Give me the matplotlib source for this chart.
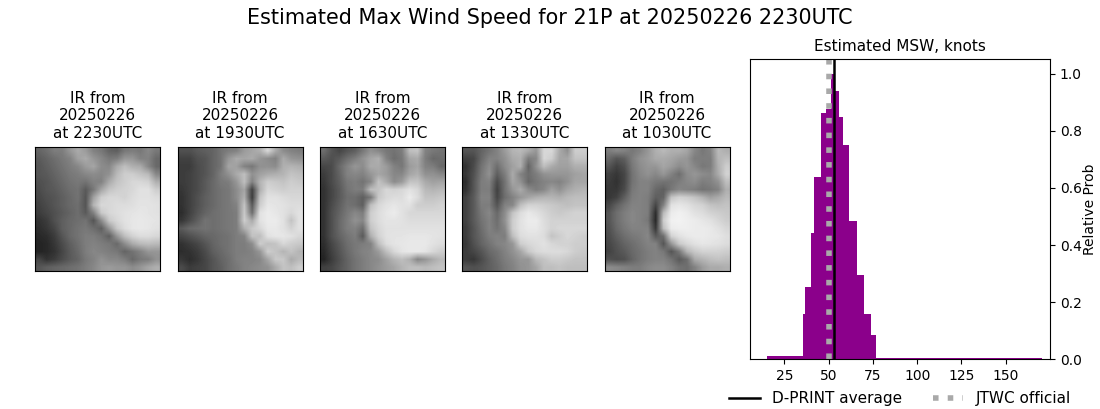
"""Estimated max wind speed panel: five IR thumbnails plus the D-PRINT histogram."""
import matplotlib
matplotlib.use("Agg")
import matplotlib.pyplot as plt
import numpy as np

# histogram bin edges (knots) and relative probability
bin_edges = [15.3, 35.8, 36.9, 39.8, 42.0, 45.5, 48.3, 51.1, 53.4, 55.7, 58.0,
             61.4, 65.9, 69.9, 73.9, 76.7, 170.5]
rel_prob = [0.0105, 0.16, 0.252, 0.442, 0.64, 0.861, 0.875, 1.0, 0.94, 0.847,
            0.749, 0.483, 0.294, 0.158, 0.084, 0.005]
dprint_avg = 53.3
jtwc_official = 50

ir_times = ["2230", "1930", "1630", "1330", "1030"]
ir_date = "20250226"

# coarse grey levels
ir_2230 = [
    [100, 110, 125, 125, 150, 170, 155, 130, 120, 100, 95, 120, 125, 120, 135, 120],
    [90, 100, 110, 120, 130, 160, 170, 150, 135, 120, 125, 150, 150, 130, 130, 105],
    [85, 95, 105, 115, 125, 135, 155, 165, 140, 135, 170, 190, 175, 170, 135, 105],
    [85, 90, 100, 110, 120, 125, 135, 140, 135, 145, 185, 205, 205, 195, 185, 135],
    [80, 85, 95, 105, 115, 120, 115, 130, 130, 170, 195, 205, 215, 215, 210, 175],
    [75, 85, 90, 100, 110, 115, 90, 120, 165, 195, 205, 210, 215, 225, 225, 205],
    [70, 80, 85, 95, 105, 115, 85, 160, 205, 215, 215, 210, 220, 225, 225, 220],
    [65, 75, 85, 95, 105, 110, 85, 180, 215, 215, 220, 220, 222, 228, 228, 225],
    [60, 70, 80, 90, 100, 110, 90, 130, 200, 215, 220, 225, 228, 230, 228, 225],
    [50, 60, 80, 95, 105, 110, 115, 85, 140, 200, 215, 225, 230, 232, 230, 228],
    [45, 55, 70, 95, 105, 115, 120, 110, 95, 150, 200, 220, 230, 232, 230, 225],
    [40, 45, 60, 85, 105, 115, 125, 125, 115, 95, 150, 190, 210, 220, 220, 215],
    [35, 40, 55, 75, 95, 110, 125, 130, 125, 120, 105, 140, 170, 185, 190, 185],
    [35, 40, 50, 70, 90, 105, 125, 135, 130, 125, 120, 100, 115, 130, 150, 150],
    [70, 50, 60, 75, 90, 100, 120, 130, 145, 135, 135, 125, 105, 120, 125, 145],
    [85, 95, 100, 105, 110, 115, 125, 135, 150, 155, 150, 150, 140, 150, 165, 175],
]
ir_1930 = [
    [80, 80, 90, 95, 100, 115, 125, 130, 155, 165, 175, 215, 170, 140, 130, 125],
    [65, 65, 80, 85, 100, 115, 150, 170, 165, 170, 150, 140, 130, 170, 150, 145],
    [60, 60, 75, 85, 100, 115, 165, 160, 130, 120, 145, 145, 140, 175, 180, 175],
    [60, 65, 75, 85, 100, 125, 145, 170, 190, 145, 160, 170, 175, 180, 195, 190],
    [60, 65, 75, 90, 105, 120, 125, 150, 190, 130, 180, 205, 200, 195, 205, 200],
    [55, 65, 75, 90, 105, 115, 120, 140, 165, 65, 175, 215, 210, 205, 210, 210],
    [50, 65, 80, 95, 105, 115, 120, 140, 175, 60, 195, 225, 225, 220, 215, 215],
    [50, 65, 80, 95, 105, 115, 120, 130, 195, 90, 205, 230, 228, 225, 220, 220],
    [45, 65, 85, 100, 110, 115, 120, 125, 200, 110, 225, 235, 230, 225, 215, 225],
    [55, 75, 95, 115, 110, 115, 120, 125, 205, 170, 225, 235, 235, 225, 195, 225],
    [90, 105, 110, 115, 110, 115, 120, 125, 175, 200, 215, 232, 232, 225, 210, 225],
    [70, 80, 90, 100, 105, 110, 115, 125, 130, 195, 190, 225, 230, 230, 225, 215],
    [50, 60, 70, 85, 100, 110, 115, 125, 125, 140, 205, 190, 195, 215, 205, 200],
    [45, 50, 60, 75, 95, 105, 115, 125, 125, 130, 150, 205, 195, 180, 195, 180],
    [55, 45, 55, 70, 85, 100, 110, 125, 130, 130, 135, 165, 200, 200, 170, 185],
    [75, 60, 65, 70, 85, 95, 110, 120, 130, 135, 140, 145, 170, 195, 190, 205],
]
ir_1630 = [
    [110, 85, 70, 85, 95, 120, 145, 135, 120, 115, 125, 190, 195, 130, 120, 115],
    [90, 80, 90, 110, 125, 145, 165, 175, 130, 110, 120, 165, 170, 125, 105, 110],
    [70, 75, 105, 130, 150, 140, 170, 170, 155, 130, 120, 155, 165, 130, 125, 105],
    [60, 75, 100, 130, 135, 130, 150, 165, 155, 135, 135, 165, 175, 145, 145, 135],
    [55, 75, 95, 120, 125, 115, 135, 195, 170, 140, 155, 195, 195, 170, 160, 165],
    [50, 70, 90, 115, 125, 125, 190, 195, 215, 210, 215, 225, 215, 185, 180, 185],
    [50, 70, 90, 110, 110, 95, 120, 200, 215, 220, 220, 235, 220, 195, 195, 200],
    [50, 75, 95, 115, 110, 95, 190, 215, 225, 230, 225, 225, 205, 205, 205, 210],
    [50, 80, 100, 120, 135, 125, 205, 220, 230, 235, 225, 215, 215, 215, 215, 215],
    [50, 80, 105, 125, 145, 135, 205, 220, 228, 228, 225, 220, 220, 220, 220, 220],
    [50, 80, 105, 125, 130, 110, 195, 215, 225, 225, 225, 225, 225, 225, 225, 225],
    [50, 80, 100, 115, 125, 90, 175, 210, 225, 228, 228, 230, 230, 230, 228, 225],
    [45, 70, 90, 110, 120, 125, 130, 190, 220, 228, 230, 232, 232, 232, 225, 220],
    [40, 65, 85, 105, 120, 130, 135, 155, 190, 215, 228, 232, 232, 228, 215, 205],
    [35, 60, 80, 100, 115, 125, 135, 140, 160, 180, 190, 175, 135, 150, 170, 185],
    [65, 70, 85, 100, 115, 125, 135, 145, 155, 165, 180, 190, 190, 185, 190, 195],
]
ir_1330 = [
    [85, 85, 100, 115, 130, 155, 180, 185, 170, 150, 215, 215, 170, 145, 205, 205],
    [65, 70, 105, 130, 130, 145, 170, 175, 125, 135, 215, 205, 165, 165, 195, 195],
    [50, 75, 115, 140, 110, 140, 160, 175, 100, 145, 190, 170, 160, 160, 175, 175],
    [55, 80, 120, 145, 95, 125, 170, 130, 110, 125, 145, 150, 150, 150, 160, 165],
    [45, 85, 125, 130, 75, 115, 165, 145, 105, 120, 130, 135, 130, 145, 165, 165],
    [50, 85, 125, 125, 65, 115, 150, 170, 140, 125, 135, 160, 145, 165, 175, 180],
    [65, 90, 130, 130, 70, 110, 130, 150, 165, 175, 180, 180, 175, 185, 190, 190],
    [65, 90, 125, 125, 85, 130, 135, 190, 210, 210, 205, 200, 195, 190, 195, 195],
    [65, 90, 120, 135, 105, 140, 195, 220, 232, 225, 215, 205, 200, 205, 210, 210],
    [65, 90, 115, 130, 110, 145, 205, 225, 235, 235, 220, 210, 210, 210, 210, 210],
    [60, 85, 110, 130, 115, 135, 205, 225, 232, 232, 222, 210, 215, 215, 215, 215],
    [60, 85, 105, 125, 130, 125, 190, 220, 225, 225, 220, 195, 205, 215, 210, 205],
    [55, 80, 100, 115, 130, 135, 150, 205, 215, 220, 225, 215, 210, 210, 205, 205],
    [60, 70, 85, 105, 115, 130, 145, 165, 200, 215, 220, 220, 220, 215, 205, 200],
    [60, 55, 75, 95, 110, 125, 135, 150, 150, 185, 195, 205, 205, 200, 195, 195],
    [85, 80, 85, 95, 105, 120, 130, 145, 150, 165, 190, 190, 195, 190, 190, 190],
]
ir_1030 = [
    [125, 135, 130, 120, 130, 150, 175, 185, 175, 175, 165, 135, 120, 130, 185, 175],
    [105, 85, 95, 125, 145, 155, 170, 170, 165, 155, 150, 125, 125, 125, 180, 190],
    [85, 65, 80, 120, 140, 150, 150, 165, 155, 140, 150, 135, 120, 125, 175, 205],
    [65, 55, 70, 115, 135, 145, 135, 150, 130, 110, 140, 150, 140, 135, 170, 210],
    [60, 50, 70, 115, 130, 130, 120, 115, 115, 125, 135, 140, 125, 130, 145, 190],
    [55, 55, 75, 120, 130, 130, 105, 95, 120, 135, 130, 125, 115, 120, 130, 175],
    [55, 65, 95, 125, 130, 125, 95, 100, 195, 210, 205, 195, 180, 160, 170, 185],
    [70, 95, 115, 130, 130, 125, 70, 130, 225, 230, 225, 215, 210, 195, 190, 195],
    [85, 110, 125, 135, 130, 125, 45, 185, 235, 240, 235, 225, 220, 210, 205, 200],
    [85, 110, 125, 135, 130, 120, 40, 205, 240, 242, 238, 235, 230, 225, 215, 205],
    [80, 105, 120, 130, 130, 130, 55, 190, 235, 238, 238, 235, 235, 232, 225, 215],
    [75, 95, 110, 120, 125, 135, 90, 110, 210, 225, 232, 235, 235, 232, 230, 222],
    [70, 85, 100, 110, 120, 130, 130, 85, 150, 200, 215, 225, 230, 228, 225, 220],
    [65, 80, 90, 105, 115, 125, 130, 120, 85, 120, 180, 200, 210, 210, 210, 205],
    [80, 75, 80, 100, 115, 125, 130, 130, 115, 90, 110, 170, 180, 190, 195, 190],
    [140, 135, 130, 125, 125, 135, 140, 140, 130, 115, 110, 130, 155, 170, 170, 175],
]
ir_images = [ir_2230, ir_1930, ir_1630, ir_1330, ir_1030]

W, H = 1100, 409


def px_axes(fig, x0, x1, y_top, y_bot):
    """Axes placed by pixel box, y measured from the top of the image."""
    return fig.add_axes([x0 / W, 1 - y_bot / H, (x1 - x0) / W, (y_bot - y_top) / H])


fig = plt.figure(figsize=(W / 100, H / 100), dpi=100)
fig.suptitle("Estimated Max Wind Speed for 21P at 20250226 2230UTC", x=0.4995,
             y=1 - 18 / H, va="center", fontsize=14.95)

lefts = [35, 177.5, 320, 462, 604.5]
for x0, img, hhmm in zip(lefts, ir_images, ir_times):
    ax = px_axes(fig, x0, x0 + 125, 147, 271)
    ax.imshow(np.array(img), cmap="gray", vmin=0, vmax=255, aspect="auto",
              interpolation="bilinear")
    ax.set_xticks([]); ax.set_yticks([])
    ax.set_title(f"IR from\n{ir_date}\nat {hhmm}UTC", fontsize=11, pad=6.6)

ax = px_axes(fig, 750, 1050, 59.4, 359.4)
edges = np.array(bin_edges)
ax.bar(edges[:-1], rel_prob, width=np.diff(edges), align="edge", color="darkmagenta")
ax.axvline(dprint_avg, color="k", lw=1.8, label="D-PRINT average")
ax.axvline(jtwc_official, color="darkgray", lw=4, ls=":", label="JTWC official")
ax.set_xlim(5.6, 175)
ax.set_ylim(0, 1.05)
ax.set_xticks([25, 50, 75, 100, 125, 150])
ax.yaxis.tick_right()
ax.yaxis.set_label_position("right")
ax.set_ylabel("Relative Prob", labelpad=1.2)
ax.set_title("Estimated MSW, knots", fontsize=11, pad=6.3)
ax.legend(loc="upper center", bbox_to_anchor=(0.5, -0.06), ncol=2, frameon=False,
          fontsize=11)

fig.savefig("out.png", dpi=100)
